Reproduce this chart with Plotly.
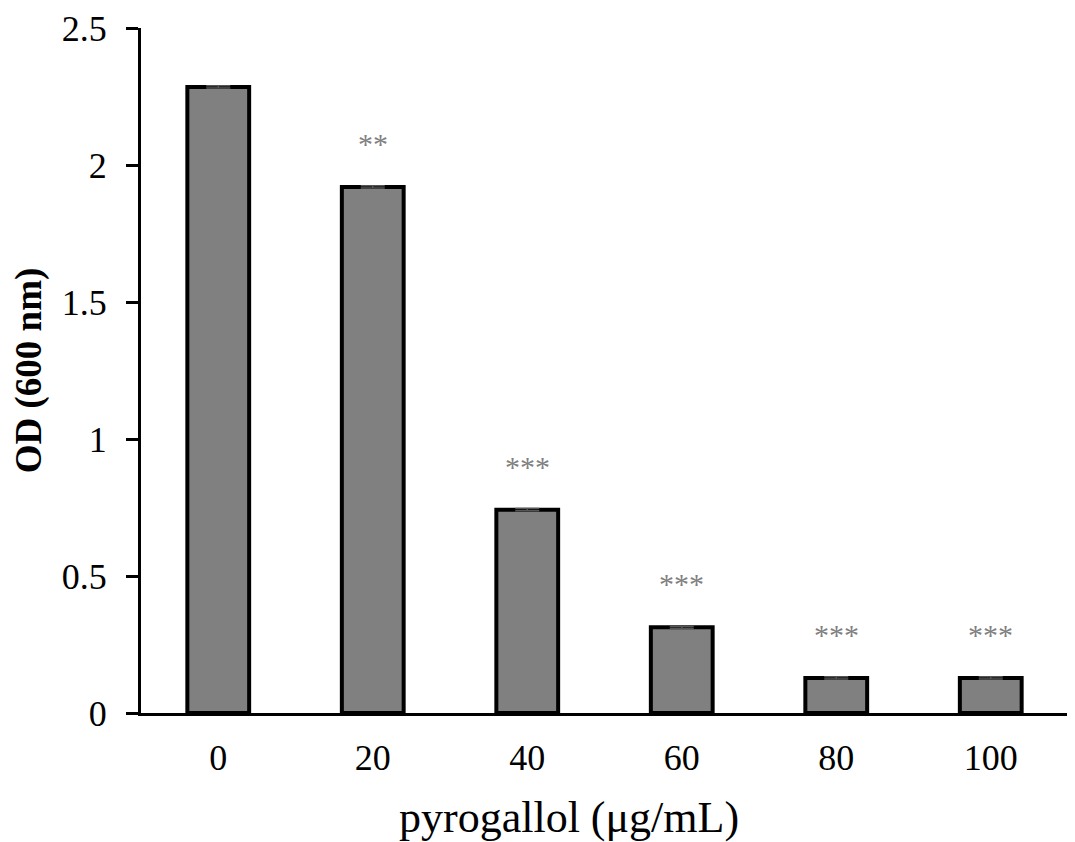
import plotly.graph_objects as go

categories = ["0", "20", "40", "60", "80", "100"]
od_values = [2.285, 1.92, 0.742, 0.313, 0.128, 0.128]
od_errors = [0.004, 0.004, 0.004, 0.004, 0.004, 0.004]
significance = ["", "**", "***", "***", "***", "***"]
y_ticks = [0, 0.5, 1, 1.5, 2, 2.5]
y_tick_labels = ["0", "0.5", "1", "1.5", "2", "2.5"]
x_title = "pyrogallol (μg/mL)"
y_title = "<b>OD (600 nm)</b>"

serif = "Liberation Serif, Times New Roman, serif"

fig = go.Figure()
fig.add_trace(go.Bar(
    x=categories,
    y=od_values,
    marker=dict(color="#808080", line=dict(color="black", width=4)),
    error_y=dict(type="data", array=od_errors, visible=True,
                 color="#555555", thickness=1.5, width=12),
    showlegend=False,
))

for i, (val, err, sig) in enumerate(zip(od_values, od_errors, significance)):
    if sig:
        fig.add_annotation(
            x=i, y=val + err, text=sig, showarrow=False,
            yanchor="bottom", yshift=24,
            font=dict(family=serif, size=30, color="#808080"),
        )

# x-axis title (sits left of the plot centre in the original)
fig.add_annotation(
    xref="paper", yref="paper", x=0.4617, y=-0.153,
    xanchor="center", yanchor="middle", showarrow=False,
    text=x_title, font=dict(family=serif, size=44, color="black"),
)

# page body has an 8px margin, so the figure is sized/shifted accordingly
fig.update_layout(
    width=1067, height=834,
    margin=dict(l=133, r=7, t=20, b=129),
    paper_bgcolor="white", plot_bgcolor="white",
    bargap=0.6,
    font=dict(family=serif, color="black"),
    xaxis=dict(
        type="category", automargin=False, range=[-0.5, 5.5],
        showline=True, linecolor="black", linewidth=3,
        ticks="outside", ticklen=11, tickcolor="rgba(0,0,0,0)",
        showgrid=False, zeroline=False,
        tickfont=dict(family=serif, size=36, color="black"),
    ),
    yaxis=dict(
        range=[0, 2.5], automargin=False,
        showline=True, linecolor="black", linewidth=3,
        ticks="outside", ticklen=12, tickwidth=2.5, tickcolor="black",
        ticklabelstandoff=12,
        tickvals=y_ticks, ticktext=y_tick_labels,
        showgrid=False, zeroline=False,
        tickfont=dict(family=serif, size=36, color="black"),
        title=dict(text=y_title, standoff=14,
                   font=dict(family=serif, size=37, color="black")),
    ),
)

fig.write_html("out.html")
